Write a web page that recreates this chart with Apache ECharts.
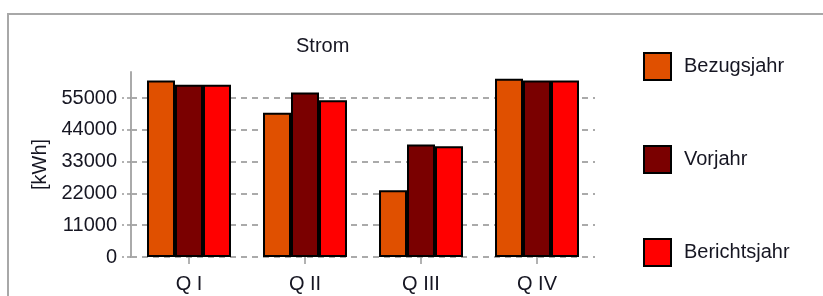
<!DOCTYPE html>
<html>
<head>
<meta charset="utf-8">
<script src="https://cdn.jsdelivr.net/npm/echarts@6/dist/echarts.min.js"></script>
<style>
  html, body { margin: 0; padding: 0; background: #fff; }
  #chart { width: 823px; height: 296px; }
</style>
</head>
<body>
<div id="chart"></div>
<script>
  // Daten
  const quartale = ['Q I', 'Q II', 'Q III', 'Q IV'];
  const bezugsjahr = [61100, 49900, 23100, 61700];
  const vorjahr = [59600, 56900, 38900, 61100];
  const berichtsjahr = [59600, 54200, 38300, 61100];
  const yTicks = [0, 11000, 22000, 33000, 44000, 55000];

  const textFont = 'Arial, "Liberation Sans", sans-serif';
  const textColor = '#161622';

  const myChart = echarts.init(document.getElementById('chart'));

  function barSeries(name, data, color) {
    return {
      name: name,
      type: 'bar',
      data: data,
      barGap: '0%',
      barCategoryGap: '27.6%',
      itemStyle: {
        color: color,
        borderColor: '#000',
        borderWidth: 2
      }
    };
  }

  const option = {
    animation: false,
    title: {
      text: 'Strom',
      left: 291,
      top: 31,
      textStyle: { fontFamily: textFont, fontSize: 20, fontWeight: 'normal', color: textColor }
    },
    graphic: [{
      type: 'rect',
      shape: { x: 8, y: 14, width: 900, height: 400 },
      style: { fill: 'none', stroke: '#a8a8a8', lineWidth: 2 },
      silent: true
    }],
    legend: {
      orient: 'vertical',
      left: 643,
      top: 52,
      padding: 0,
      itemWidth: 27,
      itemHeight: 27,
      itemGap: 64,
      icon: 'rect',
      textStyle: { fontFamily: textFont, fontSize: 20, color: textColor, padding: [0, 0, 0, 8] }
    },
    grid: {
      left: 131,
      right: 228,
      top: 72,
      bottom: 39
    },
    xAxis: {
      type: 'category',
      data: quartale,
      axisLine: { show: false },
      axisTick: { show: true, alignWithLabel: true, length: 7, lineStyle: { color: '#999', width: 1.5 } },
      axisLabel: { margin: 17, fontFamily: textFont, fontSize: 20, color: textColor }
    },
    yAxis: {
      type: 'value',
      min: 0,
      max: 64000,
      name: '[kWh]',
      nameLocation: 'middle',
      nameRotate: 90,
      nameGap: 81,
      nameTextStyle: { fontFamily: textFont, fontSize: 20, color: textColor },
      axisLine: { show: true, lineStyle: { color: '#aaa', width: 2 } },
      axisTick: {
        show: true,
        length: 9,
        customValues: yTicks,
        lineStyle: { color: '#999', width: 1.5, type: [4, 3] }
      },
      axisLabel: {
        margin: 14,
        customValues: yTicks,
        formatter: function (v) { return String(v); },
        fontFamily: textFont,
        fontSize: 20,
        color: textColor
      },
      splitLine: {
        show: true,
        lineStyle: { color: '#aaa', width: 2, type: [6, 5] }
      }
    },
    series: [
      barSeries('Bezugsjahr', bezugsjahr, '#e05000'),
      barSeries('Vorjahr', vorjahr, '#7a0000'),
      barSeries('Berichtsjahr', berichtsjahr, '#ff0000')
    ]
  };
  myChart.setOption(option);
</script>
</body>
</html>
